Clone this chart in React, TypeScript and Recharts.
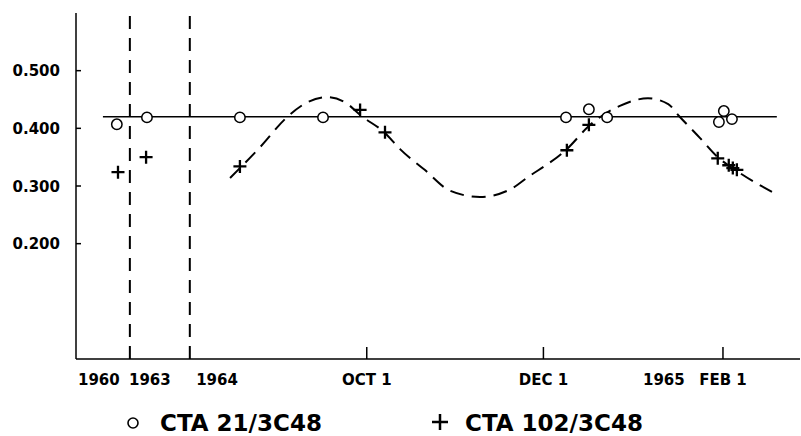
import React from 'react';
import { ComposedChart, XAxis, YAxis, Scatter, Line, ReferenceLine, Legend } from 'recharts';

// x = days relative to 1964 OCT 1 (the early years are compressed, as in the original)
const xTickValues = [-92.5, -74.9, -51.7, 0, 61, 102.6, 123];
const xTickLabels = ['1960', '1963', '1964', 'OCT 1', 'DEC 1', '1965', 'FEB 1'];
const xTickMarked = [false, false, false, true, true, false, true];
const yTickValues = [0.2, 0.3, 0.4, 0.5];
const breakLines = [-81.8, -61.1];

const cta21 = [
  { day: -86.3, v: 0.407 },
  { day: -75.9, v: 0.419 },
  { day: -43.8, v: 0.419 },
  { day: -15.1, v: 0.419 },
  { day: 68.8, v: 0.419 },
  { day: 76.7, v: 0.433 },
  { day: 83.0, v: 0.419 },
  { day: 121.6, v: 0.411 },
  { day: 123.3, v: 0.43 },
  { day: 126.1, v: 0.416 },
];

const cta102 = [
  { day: -85.9, v: 0.324 },
  { day: -76.2, v: 0.35 },
  { day: -43.8, v: 0.334 },
  { day: -2.3, v: 0.432 },
  { day: 6.3, v: 0.393 },
  { day: 69.1, v: 0.362 },
  { day: 76.7, v: 0.406 },
  { day: 121.2, v: 0.348 },
  { day: 125.0, v: 0.336 },
  { day: 126.4, v: 0.331 },
  { day: 127.8, v: 0.328 },
];

const meanLine = [
  { day: -91.1, v: 0.42 },
  { day: 141.6, v: 0.42 },
];

const curve = [
  { day: -47.2, v: 0.314 },
  { day: -36.9, v: 0.367 },
  { day: -27.6, v: 0.419 },
  { day: -21.3, v: 0.443 },
  { day: -13.7, v: 0.454 },
  { day: -7.5, v: 0.445 },
  { day: -1.7, v: 0.421 },
  { day: 6.3, v: 0.392 },
  { day: 11.5, v: 0.364 },
  { day: 20.0, v: 0.328 },
  { day: 28.7, v: 0.292 },
  { day: 39.1, v: 0.281 },
  { day: 49.5, v: 0.294 },
  { day: 56.4, v: 0.318 },
  { day: 63.3, v: 0.341 },
  { day: 69.1, v: 0.364 },
  { day: 76.7, v: 0.404 },
  { day: 87.4, v: 0.439 },
  { day: 97.1, v: 0.452 },
  { day: 104.1, v: 0.442 },
  { day: 107.9, v: 0.421 },
  { day: 115.1, v: 0.383 },
  { day: 121.2, v: 0.35 },
  { day: 127.8, v: 0.326 },
  { day: 140.2, v: 0.289 },
];

const FONT = '"DejaVu Sans", sans-serif';

const XTick = (props: any) => {
  const { x, y, payload } = props;
  const i = xTickValues.indexOf(payload.value);
  return (
    <g>
      {xTickMarked[i] && <line x1={x} x2={x} y1={y} y2={y - 12} stroke="#000" strokeWidth={1.5} />}
      <text x={x} y={y + 26} textAnchor="middle" fontFamily={FONT} fontWeight="bold" fontSize={15} fill="#000">
        {xTickLabels[i]}
      </text>
    </g>
  );
};

const YTick = (props: any) => {
  const { x, y, payload } = props;
  return (
    <g>
      <line x1={x} x2={x + 5} y1={y} y2={y} stroke="#000" strokeWidth={1.5} />
      <text x={x - 16} y={y + 5.5} textAnchor="end" fontFamily={FONT} fontWeight="bold" fontSize={15} fill="#000">
        {Number(payload.value).toFixed(3)}
      </text>
    </g>
  );
};

const CircleShape = (props: any) => (
  <circle cx={props.cx} cy={props.cy} r={5.2} fill="#fff" stroke="#000" strokeWidth={1.5} />
);

const PlusShape = (props: any) => {
  const { cx, cy } = props;
  return (
    <path d={`M${cx - 6.5},${cy}H${cx + 6.5}M${cx},${cy - 6.5}V${cy + 6.5}`} stroke="#000" strokeWidth={2.3} fill="none" />
  );
};

const renderLegend = () => (
  <svg width={800} height={40} style={{ display: 'block' }}>
    <circle cx={133} cy={27} r={5} fill="#fff" stroke="#000" strokeWidth={1.6} />
    <text x={160} y={35} fontFamily={FONT} fontWeight="bold" fontSize={23} fill="#000">CTA 21/3C48</text>
    <path d="M432,26H448M440,18V34" stroke="#000" strokeWidth={2.5} fill="none" />
    <text x={465} y={35} fontFamily={FONT} fontWeight="bold" fontSize={23} fill="#000">CTA 102/3C48</text>
  </svg>
);

export default function App() {
  return (
    <div>
      <style>{'body{margin:0;background:#fff}'}</style>
      <ComposedChart width={801} height={436} margin={{ top: 13, right: 1, bottom: 0, left: 0 }}>
        <XAxis
          dataKey="day"
          type="number"
          domain={[-100.4, 149.6]}
          allowDataOverflow
          ticks={xTickValues}
          interval={0}
          tick={<XTick />}
          tickLine={false}
          tickSize={0}
          tickMargin={0}
          height={37}
          axisLine={{ stroke: '#000', strokeWidth: 1.5 }}
        />
        <YAxis
          dataKey="v"
          type="number"
          domain={[0, 0.6]}
          allowDataOverflow
          ticks={yTickValues}
          interval={0}
          tick={<YTick />}
          tickLine={false}
          tickSize={0}
          tickMargin={0}
          width={76}
          axisLine={{ stroke: '#000', strokeWidth: 1.5 }}
        />
        <Legend verticalAlign="bottom" height={40} content={renderLegend} />
        {breakLines.map((b) => (
          <ReferenceLine key={b} x={b} stroke="#000" strokeWidth={2} strokeDasharray="13 9" />
        ))}
        <Line data={meanLine} dataKey="v" type="linear" stroke="#000" strokeWidth={1.5} dot={false} isAnimationActive={false} legendType="none" />
        <Line data={curve} dataKey="v" type="monotone" stroke="#000" strokeWidth={2} strokeDasharray="14 8" dot={false} isAnimationActive={false} legendType="none" />
        <Scatter data={cta21} dataKey="v" name="CTA 21/3C48" shape={<CircleShape />} isAnimationActive={false} />
        <Scatter data={cta102} dataKey="v" name="CTA 102/3C48" shape={<PlusShape />} isAnimationActive={false} />
      </ComposedChart>
    </div>
  );
}
